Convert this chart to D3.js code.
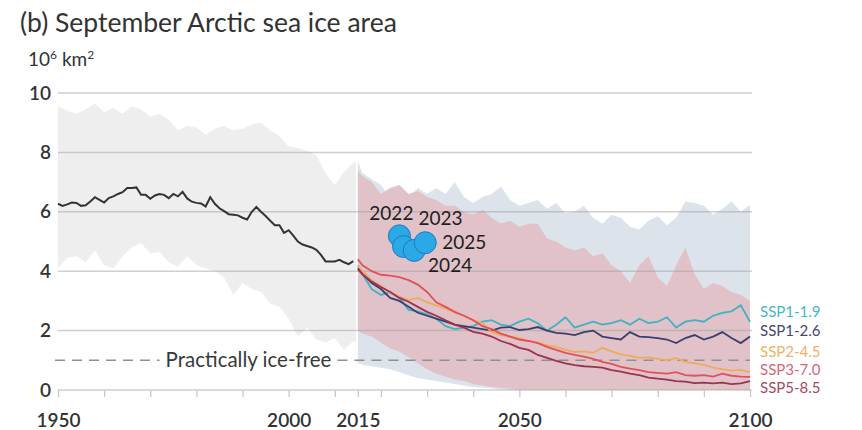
<!DOCTYPE html>
<html>
<head>
<meta charset="utf-8">
<script src="https://cdn.jsdelivr.net/npm/d3@7"></script>
<style>
    body { margin: 0; background: #fff; }
    text { font-family: Lato, "Open Sans", sans-serif; }
</style>
</head>
<body>
<div id="chart"></div>
<script>
// historic observations (black line), annual
let histYears = d3.range(1950, 2015);
let histValues = [6.27, 6.2, 6.25, 6.31, 6.3, 6.2, 6.22, 6.35, 6.49, 6.4,
    6.31, 6.46, 6.52, 6.6, 6.66, 6.8, 6.8, 6.82, 6.57, 6.57,
    6.44, 6.55, 6.6, 6.57, 6.46, 6.6, 6.52, 6.67, 6.45, 6.34,
    6.3, 6.28, 6.18, 6.49, 6.27, 6.12, 6.02, 5.92, 5.9, 5.88,
    5.8, 5.74, 6.0, 6.16, 6.0, 5.86, 5.7, 5.55, 5.55, 5.29,
    5.38, 5.2, 5.0, 4.9, 4.85, 4.8, 4.72, 4.55, 4.33, 4.33,
    4.33, 4.38, 4.3, 4.24, 4.34];

// historic model range (grey band)
let histBandYears = d3.range(1950, 2015, 2).concat([2014.6]);
let histBandUpper = [9.55, 9.4, 9.3, 9.45, 9.65, 9.35, 9.5, 9.3, 9.55, 9.45,
    9.2, 9.3, 9.1, 8.75, 8.9, 8.85, 8.6, 8.8, 8.9, 8.75,
    8.8, 8.95, 9.0, 8.75, 8.55, 8.2, 8.15, 8.05, 7.9, 7.3,
    6.9, 7.35, 7.65, 7.68];
let histBandLower = [4.1, 4.45, 4.5, 4.3, 4.7, 4.2, 4.1, 4.5, 4.8, 4.95,
    4.6, 4.65, 4.3, 4.15, 4.5, 4.2, 4.1, 4.0, 3.8, 3.2,
    3.6, 3.4, 3.3, 2.9, 2.8, 2.4, 1.8, 2.1, 1.7, 1.6,
    1.75, 1.35, 1.65, 1.6];

// projections
let futYears = [2015, 2016].concat(d3.range(2018, 2101, 2));
let allRangeUpper = [7.7, 7.3, 7.1, 6.9, 6.5, 6.7, 6.5, 6.8, 6.6, 6.8,
    6.6, 7.0, 6.5, 6.3, 6.5, 6.6, 6.85, 6.4, 6.2, 6.3,
    6.4, 6.1, 6.3, 5.95, 6.0, 6.2, 5.8, 5.6, 5.9, 5.8,
    5.5, 5.4, 5.7, 5.85, 5.55, 5.8, 6.35, 6.3, 6.2, 5.9,
    6.1, 6.35, 6.0, 6.25];
let allRangeLower = [0.9, 0.85, 0.8, 0.75, 0.7, 0.6, 0.5, 0.4, 0.35, 0.3,
    0.25, 0.2, 0.15, 0.1, 0.08, 0.05, 0.02, 0, 0, 0,
    0, 0, 0, 0, 0, 0, 0, 0, 0, 0,
    0, 0, 0, 0, 0, 0, 0, 0, 0, 0,
    0, 0, 0, 0];
let highRangeUpper = [7.4, 7.2, 7.0, 6.6, 6.8, 6.9, 6.6, 6.7, 6.5, 6.4,
    6.2, 6.2, 6.0, 5.9, 6.07, 5.8, 5.6, 5.7, 5.5, 5.6,
    5.6, 5.1, 5.0, 4.8, 4.7, 4.8, 4.5, 4.6, 4.2, 4.0,
    3.6, 4.2, 4.5, 3.8, 3.5, 4.2, 4.8, 3.9, 3.4, 3.6,
    3.5, 3.3, 3.2, 3.0];
let highRangeLower = [2.0, 1.9, 1.8, 1.6, 1.4, 1.3, 1.1, 0.9, 0.7, 0.55,
    0.45, 0.35, 0.3, 0.2, 0.15, 0.1, 0.07, 0.05, 0, 0,
    0, 0, 0, 0, 0, 0, 0, 0, 0, 0,
    0, 0, 0, 0, 0, 0, 0, 0, 0, 0,
    0, 0, 0, 0];

let scenarios = ["SSP1-1.9", "SSP1-2.6", "SSP2-4.5", "SSP3-7.0", "SSP5-8.5"];
let ssp119 = [4.2, 3.9, 3.4, 3.2, 3.3, 3.1, 2.7, 2.65, 2.55, 2.4,
    2.15, 2.05, 2.1, 2.15, 2.3, 2.35, 2.2, 2.15, 2.3, 2.4,
    2.25, 2.0, 2.2, 2.45, 2.1, 2.2, 2.3, 2.2, 2.25, 2.35,
    2.2, 2.4, 2.25, 2.3, 2.45, 2.1, 2.3, 2.35, 2.3, 2.5,
    2.6, 2.65, 2.85, 2.3];
let ssp126 = [4.1, 3.9, 3.6, 3.4, 3.1, 3.0, 2.8, 2.6, 2.5, 2.4,
    2.3, 2.2, 2.15, 2.1, 2.05, 2.0, 2.1, 2.12, 2.02, 2.05,
    2.12, 2.0, 1.92, 1.9, 1.85, 1.95, 2.0, 1.8, 1.75, 1.7,
    1.95, 1.8, 1.78, 1.75, 1.7, 1.58, 1.75, 1.85, 1.7, 1.8,
    1.95, 1.75, 1.58, 1.8];
let ssp245 = [4.2, 4.0, 3.7, 3.5, 3.27, 3.15, 3.03, 3.1, 2.95, 2.85,
    2.75, 2.6, 2.5, 2.35, 2.25, 1.95, 1.85, 1.8, 1.75, 1.65,
    1.6, 1.5, 1.45, 1.35, 1.28, 1.3, 1.25, 1.42, 1.3, 1.2,
    1.15, 1.08, 1.1, 1.05, 1.0, 1.08, 0.95, 0.9, 0.85, 0.75,
    0.7, 0.65, 0.68, 0.6];
let ssp370 = [4.4, 4.2, 4.0, 3.88, 3.85, 3.8, 3.7, 3.55, 3.3, 2.95,
    2.8, 2.63, 2.5, 2.35, 2.15, 2.05, 1.9, 1.8, 1.7, 1.65,
    1.58, 1.45, 1.35, 1.25, 1.18, 1.12, 1.05, 0.95, 0.88, 0.78,
    0.72, 0.67, 0.6, 0.58, 0.55, 0.6, 0.5, 0.48, 0.5, 0.45,
    0.55, 0.48, 0.45, 0.44];
let ssp585 = [4.05, 3.9, 3.65, 3.47, 3.3, 3.1, 2.97, 2.8, 2.63, 2.5,
    2.35, 2.2, 2.1, 1.96, 1.9, 1.8, 1.65, 1.55, 1.42, 1.35,
    1.18, 1.08, 0.98, 0.9, 0.84, 0.8, 0.78, 0.75, 0.67, 0.62,
    0.55, 0.5, 0.42, 0.38, 0.35, 0.3, 0.28, 0.23, 0.25, 0.22,
    0.25, 0.2, 0.22, 0.3];
let scenarioValues = [ssp119, ssp126, ssp245, ssp370, ssp585];
let scenarioColors = ["#3fb3c2", "#3b3f6e", "#f0aa5c", "#e2505a", "#9c3250"];
let labelColors = ["#45b8c6", "#45486f", "#efb266", "#d9647a", "#a8485e"];

// recent observed years (blue dots)
let dotYears = ["2022", "2023", "2024", "2025"];
let dotX = [2024.0, 2024.9, 2027.2, 2029.6];
let dotValues = [5.19, 4.83, 4.70, 4.96];

let xTicks = [1950, 1960, 1970, 1980, 1990, 2000, 2010, 2015, 2020, 2030, 2040, 2050, 2060, 2070, 2080, 2090, 2100];
let xLabels = [1950, 2000, 2015, 2050, 2100];
let yTicks = [0, 2, 4, 6, 8, 10];
let iceFree = 1;

// chart size
let width = 862, height = 430;
let margin = {left: 58, right: 112, top: 93, bottom: 40};

let svg = d3.select("#chart").append("svg")
    .attr("width", width)
    .attr("height", height);

let x = d3.scaleLinear().domain([1950, 2100]).range([margin.left, width - margin.right]);
let y = d3.scaleLinear().domain([0, 10]).range([height - margin.bottom, margin.top]);

// title and unit
svg.append("text")
    .attr("x", 20).attr("y", 32)
    .attr("font-size", 26.5)
    .attr("fill", "#333")
    .text("(b) September Arctic sea ice area");

let unit = svg.append("text")
    .attr("x", 28).attr("y", 66)
    .attr("font-size", 19)
    .attr("fill", "#333");
unit.append("tspan").text("10");
unit.append("tspan").attr("font-size", 12).attr("dy", -7).text("6");
unit.append("tspan").attr("dy", 7).text(" km");
unit.append("tspan").attr("font-size", 12).attr("dy", -7).text("2");

// bands
function band(years, lo, hi) {
    return d3.area()
        .x(function (d, i) { return x(years[i]); })
        .y0(function (d, i) { return y(lo[i]); })
        .y1(function (d, i) { return y(hi[i]); })(years);
}

svg.append("path")
    .attr("d", band(histBandYears, histBandLower, histBandUpper))
    .attr("fill", "#eeeeee");
svg.append("path")
    .attr("d", band(futYears, allRangeLower, allRangeUpper))
    .attr("fill", "#dce3eb");
svg.append("path")
    .attr("d", band(futYears, highRangeLower, highRangeUpper))
    .attr("fill", "#e0c2c8");

// grid lines
svg.append("g")
    .selectAll("line")
    .data(yTicks)
    .enter().append("line")
    .attr("x1", x(1950)).attr("x2", x(2100) + 2)
    .attr("y1", function (d) { return y(d); })
    .attr("y2", function (d) { return y(d); })
    .attr("stroke", "#a0a0a0")
    .attr("stroke-opacity", 0.5)
    .attr("stroke-width", 1.5);

// y labels
svg.append("g")
    .selectAll("text")
    .data(yTicks)
    .enter().append("text")
    .attr("x", 51)
    .attr("y", function (d) { return y(d); })
    .attr("dy", "0.35em")
    .attr("text-anchor", "end")
    .attr("font-size", 19)
    .attr("font-weight", 600)
    .attr("fill", "#333")
    .text(function (d) { return d; });

// x axis
let xAxis = svg.append("g")
    .attr("transform", "translate(0," + y(0) + ")")
    .call(d3.axisBottom(x)
        .tickValues(xTicks)
        .tickSize(7)
        .tickFormat(function (d) { return xLabels.indexOf(d) >= 0 ? d : ""; }));
xAxis.select(".domain").remove();
xAxis.selectAll(".tick line").attr("stroke", "#c8c8c8").attr("stroke-width", 1.3);
xAxis.selectAll(".tick text")
    .attr("y", 24)
    .attr("font-family", "Lato, sans-serif")
    .attr("font-size", 19)
    .attr("font-weight", 600)
    .attr("fill", "#333");

// practically ice-free line
let iceText = svg.append("text")
    .attr("x", x(1991.3))
    .attr("y", y(iceFree))
    .attr("dy", "0.35em")
    .attr("text-anchor", "middle")
    .attr("font-size", 20.5)
    .attr("fill", "#3a3a3a")
    .text("Practically ice-free");
let tw = iceText.node().getComputedTextLength();
let segs = [[x(1950) - 3, x(1991.3) - tw / 2 - 6], [x(1991.3) + tw / 2 + 6, x(2100)]];
svg.append("g")
    .selectAll("line")
    .data(segs)
    .enter().append("line")
    .attr("x1", function (d) { return d[0]; })
    .attr("x2", function (d) { return d[1]; })
    .attr("y1", y(iceFree)).attr("y2", y(iceFree))
    .attr("stroke", "#8f8f8f")
    .attr("stroke-width", 1.6)
    .attr("stroke-dasharray", "10,7");

// lines
let line = d3.line()
    .x(function (d) { return x(d[0]); })
    .y(function (d) { return y(d[1]); });

svg.append("path")
    .attr("d", line(d3.zip(histYears, histValues)))
    .attr("fill", "none")
    .attr("stroke", "#333")
    .attr("stroke-width", 2);

svg.append("g")
    .selectAll("path")
    .data(scenarioValues)
    .enter().append("path")
    .attr("d", function (d) { return line(d3.zip(futYears, d)); })
    .attr("fill", "none")
    .attr("stroke", function (d, i) { return scenarioColors[i]; })
    .attr("stroke-width", 1.8);

// scenario labels
let labelY = [312, 331, 352, 370, 388];
svg.append("g")
    .selectAll("text")
    .data(scenarios)
    .enter().append("text")
    .attr("x", x(2100) + 10)
    .attr("y", function (d, i) { return labelY[i]; })
    .attr("dy", "0.35em")
    .attr("font-size", 15)
    .attr("fill", function (d, i) { return labelColors[i]; })
    .text(function (d) { return d; });

// observed dots
svg.append("g")
    .selectAll("circle")
    .data(dotValues)
    .enter().append("circle")
    .attr("cx", function (d, i) { return x(dotX[i]); })
    .attr("cy", function (d) { return y(d); })
    .attr("r", 11)
    .attr("fill", "#2ba8e6")
    .attr("stroke", "#1b7cbc")
    .attr("stroke-width", 1);

// label offsets from each dot
let dotLabelOff = [[-8, -23], [37, -28], [36, 15], [39, 0]];
svg.append("g")
    .selectAll("text")
    .data(dotYears)
    .enter().append("text")
    .attr("x", function (d, i) { return x(dotX[i]) + dotLabelOff[i][0]; })
    .attr("y", function (d, i) { return y(dotValues[i]) + dotLabelOff[i][1]; })
    .attr("dy", "0.35em")
    .attr("text-anchor", "middle")
    .attr("font-size", 19)
    .attr("fill", "#1e1e1e")
    .text(function (d) { return d; });
</script>
</body>
</html>
